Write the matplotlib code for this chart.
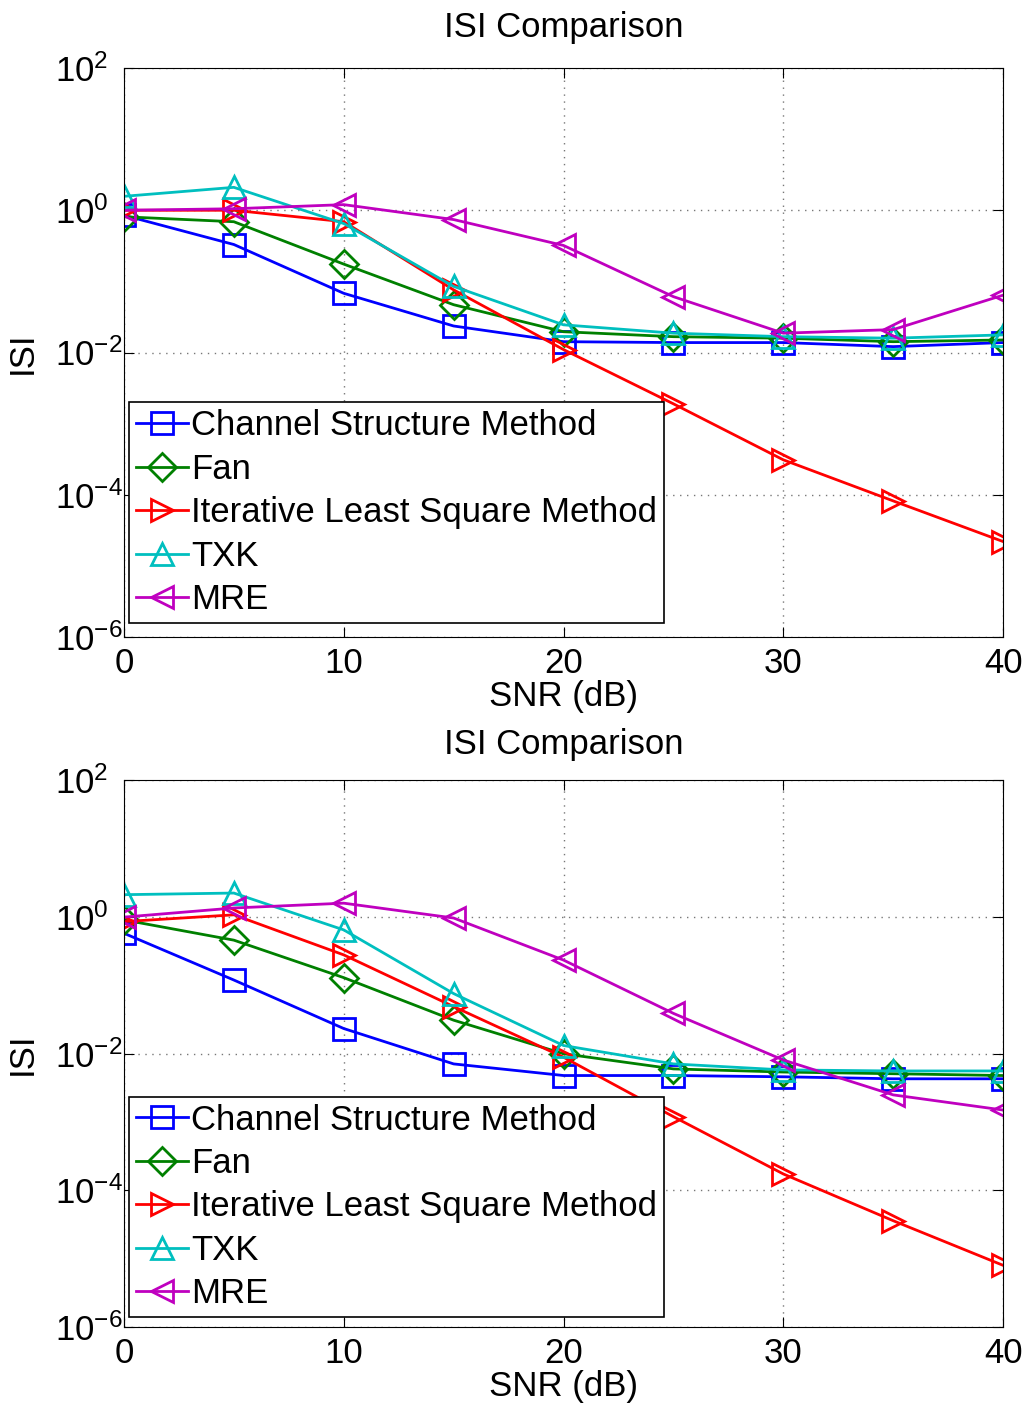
import numpy as np
import matplotlib
matplotlib.use('Agg')
import matplotlib.pyplot as plt

plt.rcParams['font.family'] = ['Liberation Sans', 'DejaVu Sans']
plt.rcParams['mathtext.fontset'] = 'custom'
plt.rcParams['mathtext.rm'] = 'Liberation Sans'
plt.rcParams['mathtext.it'] = 'Liberation Sans'

snr = [0, 5, 10, 15, 20, 25, 30, 35, 40]
names = ['Channel Structure Method', 'Fan', 'Iterative Least Square Method', 'TXK', 'MRE']
colors = ['#0000ff', '#008000', '#ff0000', '#00bfbf', '#bf00bf']
markers = ['s', 'D', '>', '^', '<']

# upper panel
csm_a = [0.85, 0.33, 0.068, 0.0236, 0.0142, 0.0138, 0.0138, 0.0121, 0.0138]
fan_a = [0.81, 0.69, 0.175, 0.047, 0.0196, 0.0167, 0.0159, 0.0142, 0.015]
ils_a = [1.0, 1.0, 0.69, 0.076, 0.011, 0.0019, 0.00031, 8.2e-5, 2.2e-5]
txk_a = [1.57, 2.1, 0.65, 0.085, 0.0245, 0.0187, 0.0167, 0.0159, 0.0177]
mre_a = [1.0, 1.05, 1.2, 0.74, 0.32, 0.061, 0.0187, 0.021, 0.064]

# lower panel
csm_b = [0.58, 0.12, 0.0234, 0.0071, 0.0048, 0.0048, 0.0046, 0.0043, 0.0043]
fan_b = [0.91, 0.46, 0.13, 0.031, 0.010, 0.006, 0.0054, 0.0051, 0.0048]
ils_b = [0.86, 1.08, 0.28, 0.049, 0.0089, 0.0012, 1.74e-4, 3.6e-5, 8e-6]
txk_b = [2.13, 2.25, 0.65, 0.076, 0.0132, 0.0071, 0.0058, 0.0056, 0.0056]
mre_b = [1.0, 1.36, 1.6, 0.97, 0.235, 0.039, 0.0081, 0.0025, 0.0015]

fig = plt.figure(figsize=(10.27, 14.05), dpi=100)
ax1 = fig.add_axes([0.1207, 0.5466, 0.856, 0.405])
ax2 = fig.add_axes([0.1207, 0.0555, 0.856, 0.389])

fs = 25
for ax, data, leg_y, tpad in [(ax1, [csm_a, fan_a, ils_a, txk_a, mre_a], 0.0246, 22),
                              (ax2, [csm_b, fan_b, ils_b, txk_b, mre_b], 0.018, 19)]:
    for vals, nm, c, mk in zip(data, names, colors, markers):
        ax.semilogy(snr, vals, color=c, marker=mk, markersize=16 if mk != 'D' else 14,
                    markerfacecolor='none', markeredgewidth=2.0, linewidth=2.0, label=nm)
    ax.set_xlim(0, 40)
    ax.set_ylim(1e-6, 1e2)
    ax.set_xticks([0, 10, 20, 30, 40])
    ax.set_yticks([1e-6, 1e-4, 1e-2, 1e0, 1e2])
    ax.set_yticklabels(['$10^{-6}$', '$10^{-4}$', '$10^{-2}$', '$10^{0}$', '$10^{2}$'])
    ax.yaxis.set_minor_locator(matplotlib.ticker.NullLocator())
    ax.grid(True, linestyle=(0, (1, 4)), color='#777777', linewidth=1.0)
    ax.tick_params(direction='in', top=True, right=True, labelsize=fs, length=7)
    ax.tick_params(axis='x', pad=7)
    ax.tick_params(axis='y', pad=50)
    for lab in ax.get_yticklabels():
        lab.set_horizontalalignment('left')
    ax.set_xlabel('SNR (dB)', fontsize=fs, labelpad=0)
    ax.set_ylabel('ISI', fontsize=fs)
    ax.yaxis.set_label_coords(-0.0967, 0.5)
    ax.set_title('ISI Comparison', fontsize=fs, pad=tpad)
    leg = ax.legend(loc='lower left', bbox_to_anchor=(0.0057, leg_y), fontsize=fs,
                    fancybox=False, framealpha=1, edgecolor='black', handlelength=1.5,
                    handletextpad=0.1, labelspacing=0.3, borderpad=0.2, borderaxespad=0)
    leg.get_frame().set_linewidth(1.2)

fig.savefig('out.png', dpi=100)
